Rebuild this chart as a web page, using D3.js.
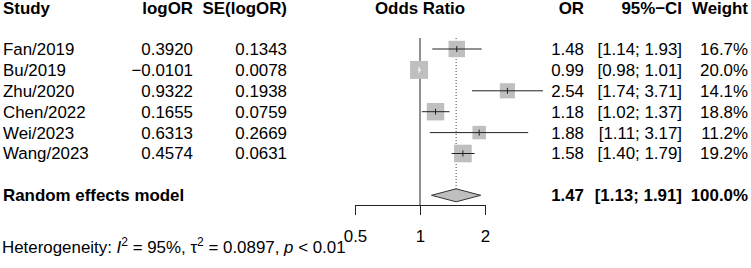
<!DOCTYPE html>
<html>
<head>
<meta charset="utf-8">
<script src="https://cdn.jsdelivr.net/npm/d3@7"></script>
<style>
	body { margin: 0; background: #fff; }
	text { font-family: "Liberation Sans", Arial, sans-serif; fill: #000; }
</style>
</head>
<body>
<svg id="forest" width="751" height="268"></svg>
<script>
// study level data
var studies = ['Fan/2019', 'Bu/2019', 'Zhu/2020', 'Chen/2022', 'Wei/2023', 'Wang/2023'];
var log_or = [0.3920, -0.0101, 0.9322, 0.1655, 0.6313, 0.4574];
var se_log_or = [0.1343, 0.0078, 0.1938, 0.0759, 0.2669, 0.0631];
var odds = [1.48, 0.99, 2.54, 1.18, 1.88, 1.58];
var ci_low = [1.14, 0.98, 1.74, 1.02, 1.11, 1.40];
var ci_high = [1.93, 1.01, 3.71, 1.37, 3.17, 1.79];
var weights = [16.7, 20.0, 14.1, 18.8, 11.2, 19.2];

// pooled estimate
var pooled = {label: 'Random effects model', or: 1.47, low: 1.13, high: 1.91, weight: 100.0};
var axis_ticks = [0.5, 1, 2];
var font_size = 16.9;

var svg_elem = d3.select('#forest');

// scales
var x_scale = d3.scaleLog().base(2).domain([0.5, 2]).range([355, 485]);
var y_scale = d3.scaleLinear().domain([0, 7]).range([49, 195.3]);
var size_scale = d3.scaleSqrt().domain([0, 20]).range([0, 18]);
var header_y = 8;
var axis_y = 205;

var f4 = d3.format('.4f'), f2 = d3.format('.2f'), f1 = d3.format('.1f');

var rows = studies.map(function(s, i) {
	return {name: s, logor: log_or[i], se: se_log_or[i], or: odds[i], low: ci_low[i], high: ci_high[i], w: weights[i], i: i};
});

// headers
var headers = [
	{t: 'Study', x: 3, a: 'start'},
	{t: 'logOR', x: 193, a: 'end'},
	{t: 'SE(logOR)', x: 287, a: 'end'},
	{t: 'Odds Ratio', x: x_scale(1), a: 'middle'},
	{t: 'OR', x: 584, a: 'end'},
	{t: '95%\u2212CI', x: 682, a: 'end'},
	{t: 'Weight', x: 748, a: 'end'}
];
svg_elem.selectAll('text.head').data(headers).enter().append('text')
	.attr('class', 'head')
	.attr('x', d => d.x).attr('y', header_y).attr('dy', '0.35em')
	.attr('text-anchor', d => d.a)
	.style('font-size', font_size + 'px').style('font-weight', 'bold')
	.text(d => d.t);

// line of no effect
svg_elem.append('line')
	.attr('x1', x_scale(1)).attr('x2', x_scale(1))
	.attr('y1', y_scale(0) - 11).attr('y2', axis_y)
	.attr('stroke', '#222').attr('stroke-width', 1);

// dotted line at pooled estimate
svg_elem.append('line')
	.attr('x1', x_scale(pooled.or)).attr('x2', x_scale(pooled.or))
	.attr('y1', y_scale(0) - 11).attr('y2', y_scale(7) - 6.5)
	.attr('stroke', '#444').attr('stroke-width', 1).attr('stroke-dasharray', '1,2');

// study rows
var g_rows = svg_elem.selectAll('g.row').data(rows).enter().append('g')
	.attr('class', 'row')
	.attr('transform', d => 'translate(0,' + y_scale(d.i) + ')');

g_rows.append('rect')
	.attr('x', d => x_scale(d.or) - size_scale(d.w) / 2)
	.attr('y', d => -size_scale(d.w) / 2)
	.attr('width', d => size_scale(d.w)).attr('height', d => size_scale(d.w))
	.attr('fill', '#bfbfbf');

// CI lines: white when the interval sits inside the square
function inside(d) { return x_scale(d.high) - x_scale(d.low) < size_scale(d.w); }
g_rows.append('line')
	.attr('x1', d => x_scale(d.low)).attr('x2', d => x_scale(d.high))
	.attr('y1', 0).attr('y2', 0)
	.attr('stroke', d => inside(d) ? '#fff' : '#222').attr('stroke-width', 1);
g_rows.append('line')
	.attr('x1', d => x_scale(d.or)).attr('x2', d => x_scale(d.or))
	.attr('y1', -3).attr('y2', 3)
	.attr('stroke', d => inside(d) ? '#fff' : '#222').attr('stroke-width', 1);

g_rows.append('text').attr('x', 3).attr('dy', '0.35em').text(d => d.name);
g_rows.append('text').attr('x', 193).attr('text-anchor', 'end').attr('dy', '0.35em').text(d => f4(d.logor));
g_rows.append('text').attr('x', 287).attr('text-anchor', 'end').attr('dy', '0.35em').text(d => f4(d.se));
g_rows.append('text').attr('x', 584).attr('text-anchor', 'end').attr('dy', '0.35em').text(d => f2(d.or));
g_rows.append('text').attr('x', 682).attr('text-anchor', 'end').attr('dy', '0.35em').text(d => '[' + f2(d.low) + '; ' + f2(d.high) + ']');
g_rows.append('text').attr('x', 748).attr('text-anchor', 'end').attr('dy', '0.35em').text(d => f1(d.w) + '%');
g_rows.selectAll('text').style('font-size', font_size + 'px');

// pooled row
var py = y_scale(7);
svg_elem.append('path')
	.attr('d', 'M' + x_scale(pooled.low) + ',' + py + 'L' + x_scale(pooled.or) + ',' + (py - 6.5) +
		'L' + x_scale(pooled.high) + ',' + py + 'L' + x_scale(pooled.or) + ',' + (py + 6.5) + 'Z')
	.attr('fill', '#bfbfbf').attr('stroke', '#333').attr('stroke-width', 1);

var pooled_cells = [
	{t: pooled.label, x: 3, a: 'start'},
	{t: f2(pooled.or), x: 584, a: 'end'},
	{t: '[' + f2(pooled.low) + '; ' + f2(pooled.high) + ']', x: 682, a: 'end'},
	{t: f1(pooled.weight) + '%', x: 748, a: 'end'}
];
svg_elem.selectAll('text.pool').data(pooled_cells).enter().append('text')
	.attr('class', 'pool')
	.attr('x', d => d.x).attr('y', py).attr('dy', '0.35em')
	.attr('text-anchor', d => d.a)
	.style('font-size', font_size + 'px').style('font-weight', 'bold')
	.text(d => d.t);

// x axis
var x_axis = d3.axisBottom(x_scale).tickValues(axis_ticks)
	.tickFormat(d3.format('')).tickSize(10).tickSizeOuter(0).tickPadding(15);
var g_axis = svg_elem.append('g').attr('transform', 'translate(0,' + axis_y + ')').call(x_axis);
g_axis.selectAll('path, line').attr('stroke', '#222');
g_axis.selectAll('text').attr('fill', '#000').style('font-size', font_size + 'px')
	.style('font-family', '"Liberation Sans", Arial, sans-serif');

// heterogeneity
var het = svg_elem.append('text').attr('x', 2).attr('y', 253).style('font-size', '16.9px');
het.append('tspan').text('Heterogeneity: ');
het.append('tspan').style('font-style', 'italic').text('I');
het.append('tspan').attr('dy', -7).style('font-size', '12px').text('2');
het.append('tspan').attr('dy', 7).text(' = 95%, \u03c4');
het.append('tspan').attr('dy', -7).style('font-size', '12px').text('2');
het.append('tspan').attr('dy', 7).text(' = 0.0897, ');
het.append('tspan').style('font-style', 'italic').text('p');
het.append('tspan').text(' < 0.01');
</script>
</body>
</html>
